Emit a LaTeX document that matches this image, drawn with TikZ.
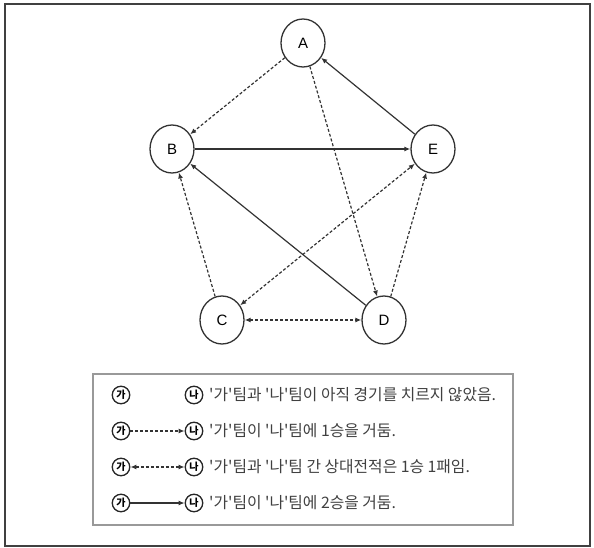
\documentclass[tikz,border=0pt]{standalone}
\usepackage{fontspec}
\setmainfont{Liberation Sans}
\newfontfamily\kr{Noto Sans CJK KR}
\usetikzlibrary{arrows.meta,shapes.geometric}
\begin{document}
\begin{tikzpicture}[x=1pt,y=-1pt,
  gnode/.style={draw=black!80, line width=1.3pt, ellipse, minimum width=44pt, minimum height=48pt, inner sep=0pt, font=\fontsize{15}{15}\selectfont},
  win/.style={draw=black!80, line width=1.2pt, -{Latex[length=6pt,width=5pt]}},
  dwin/.style={win, dash pattern=on 3pt off 2pt},
  dboth/.style={dwin, {Latex[length=6pt,width=5pt]}-{Latex[length=6pt,width=5pt]}},
  lnode/.style={draw=black!85, line width=1.3pt, circle, minimum size=17.5pt, inner sep=0pt, font=\kr\fontsize{10}{10}\selectfont\bfseries},
  ltext/.style={anchor=west, inner sep=0pt, font=\kr\fontsize{15.8}{15.8}\selectfont, text=black!75},
]
\useasboundingbox (0,0) rectangle (594,548);
\draw[line width=2pt, black!75] (5,4) rectangle (590,546);
% graph nodes
\node[gnode] (A) at (303,43) {A};
\node[gnode] (B) at (172,149) {B};
\node[gnode] (E) at (433,149) {E};
\node[gnode] (C) at (222,320) {C};
\node[gnode] (D) at (384,320) {D};
% edges
\draw[dwin] (A) -- (B);
\draw[dwin] (A) -- (D);
\draw[win] (E) -- (A);
\draw[win] (B) -- (E);
\draw[win] (D) -- (B);
\draw[dwin] (C) -- (B);
\draw[dboth] (C) -- (E);
\draw[dwin] (D) -- (E);
\draw[dboth] (C) -- (D);
% legend
\draw[line width=1.5pt, black!40] (93,374) rectangle (513,525);
\node[lnode] (g1) at (121,395) {가};
\node[lnode] (n1) at (194,395) {나};
\node[ltext] (t1) at (209,395) {'가'팀과 '나'팀이 아직 경기를 치르지 않았음.};
\node[lnode] (g2) at (121,431) {가};
\node[lnode] (n2) at (194,431) {나};
\node[ltext] (t2) at (209,431) {'가'팀이 '나'팀에 1승을 거둠.};
\node[lnode] (g3) at (121,467) {가};
\node[lnode] (n3) at (194,467) {나};
\node[ltext] (t3) at (209,467) {'가'팀과 '나'팀 간 상대전적은 1승 1패임.};
\node[lnode] (g4) at (121,503) {가};
\node[lnode] (n4) at (194,503) {나};
\node[ltext] (t4) at (209,503) {'가'팀이 '나'팀에 2승을 거둠.};
\draw[dwin] (g2) -- (n2);
\draw[dboth] (g3) -- (n3);
\draw[win] (g4) -- (n4);
\end{tikzpicture}
\end{document}
